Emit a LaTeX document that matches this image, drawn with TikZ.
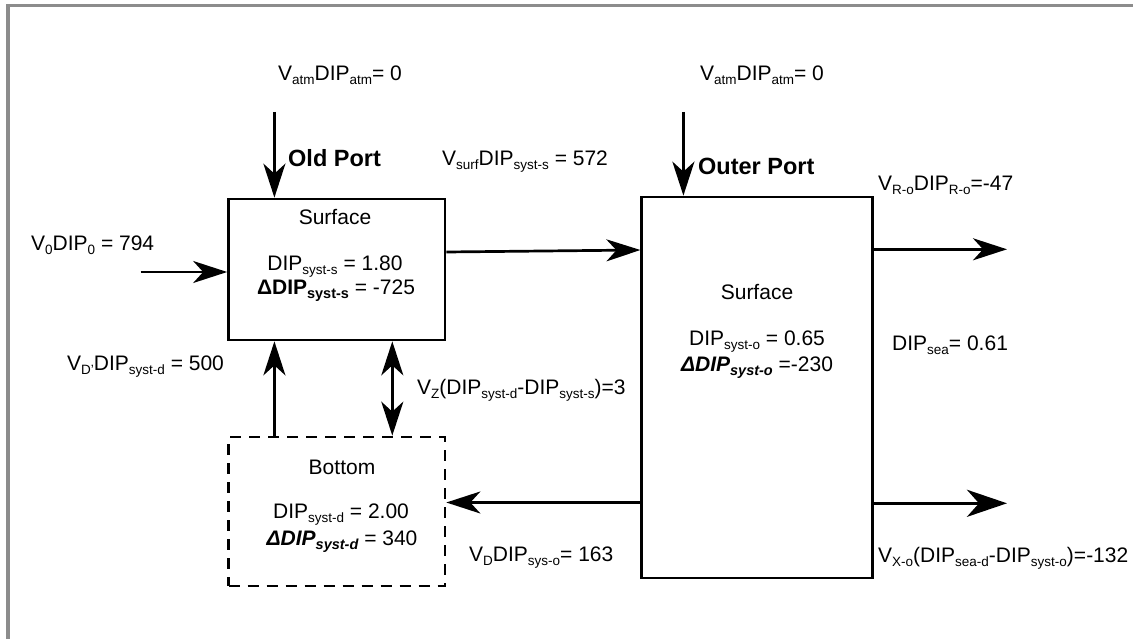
\documentclass[tikz,border=0pt]{standalone}
\usepackage{fontspec}
\setmainfont{Liberation Sans}
\usetikzlibrary{arrows.meta}
\newcommand{\dn}[1]{\raisebox{-4pt}{\fontsize{13.5}{13.5}\selectfont #1}}
\newcommand{\dnb}[1]{\raisebox{-4pt}{\fontsize{14.5}{14.5}\selectfont #1}}
\begin{document}
\begin{tikzpicture}[x=1pt,y=-1pt,
  txt/.style={inner sep=0pt,font=\fontsize{21}{24}\selectfont},
  bold/.style={inner sep=0pt,font=\fontsize{23.5}{26}\selectfont\bfseries},
  boxs/.style={draw,line width=2.7pt,inner sep=0pt},
  tip/.tip={Stealth[length=34pt,width=22pt,inset=10pt]},
  bigtip/.tip={Stealth[length=40pt,width=27pt,inset=12pt]},
  flow/.style={line width=2.7pt,-tip},
  dflow/.style={line width=2.7pt,tip-tip},
  frame/.style={draw=gray!90,line width=3.5pt}]
\useasboundingbox (0,0) rectangle (1133,639);
\draw[frame] (8,639) -- (8,5.5) -- (1133,5.5);
% boxes
\node[boxs,minimum width=216.5pt,minimum height=141pt] (os) at (336.75,269.5) {};
\node[boxs,dashed,dash pattern=on 11pt off 8pt,minimum width=216.5pt,minimum height=149pt] (bt) at (336.75,511.5) {};
\node[boxs,minimum width=231pt,minimum height=381pt] (ob) at (757.25,387.5) {};
% texts in boxes
\node[txt] (t1) at (335,217) {Surface};
\node[txt] (t2) at (335,267) {DIP\dn{syst-s} = 1.80};
\node[txt] (t3) at (336,291) {\textbf{ΔDIP\dnb{syst-s}} = -725};
\node[txt] (t4) at (342,467) {Bottom};
\node[txt] (t5) at (341,515) {DIP\dn{syst-d} = 2.00};
\node[txt] (t6) at (342,542) {\textbf{\textit{ΔDIP\dnb{syst-d}}} = 340};
\node[txt] (t7) at (757,292) {Surface};
\node[txt] (t8) at (757,342) {DIP\dn{syst-o} = 0.65};
\node[txt] (t9) at (757,368) {\textbf{\textit{ΔDIP\dnb{syst-o}}} =-230};
% labels
\node[txt] (la1) at (340,75) {V\dn{atm}DIP\dn{atm}= 0};
\node[txt] (la2) at (762,75) {V\dn{atm}DIP\dn{atm}= 0};
\node[bold,anchor=west] (lp1) at (288,158) {Old Port};
\node[bold,anchor=west] (lp2) at (698,166) {Outer Port};
\node[txt,anchor=west] (ls) at (442,162) {V\dn{surf}DIP\dn{syst-s} = 572};
\node[txt,anchor=west] (lr) at (878,185) {V\dn{R-o}DIP\dn{R-o}=-47};
\node[txt,anchor=west] (l0) at (31,245) {V\dn{0}DIP\dn{0} = 794};
\node[txt,anchor=west] (ld) at (67,367) {V\dn{D'}DIP\dn{syst-d} = 500};
\node[txt,anchor=west] (lz) at (417,390) {V\dn{Z}(DIP\dn{syst-d}-DIP\dn{syst-s})=3};
\node[txt,anchor=west] (lsea) at (892,345) {DIP\dn{sea}= 0.61};
\node[txt,anchor=west] (lvd) at (469,558) {V\dn{D}DIP\dn{sys-o}= 163};
\node[txt,anchor=west] (lx) at (878,558) {V\dn{X-o}(DIP\dn{sea-d}-DIP\dn{syst-o})=-132};
% free ends
\coordinate (a1) at (274.4,112);
\coordinate (a2) at (683.4,112);
\coordinate (a0) at (140.5,272);
\coordinate (r1) at (1007,249.3);
\coordinate (r2) at (1007,503.3);
% connectors
\draw[flow] (a1) -- (a1 |- os.north);
\draw[flow] (a2) -- (a2 |- ob.north);
\draw[flow] (a0) -- (a0 -| os.west);
\draw[flow] (os.east |- 0,252) -- (ob.west |- 0,250);
\draw[flow] (ob.east |- 0,249.3) -- (r1);
\draw[line width=3.6pt,-bigtip] (ob.east |- 0,503.3) -- (r2);
\draw[flow] (ob.west |- 0,502.5) -- (bt.east |- 0,502.5);
\draw[flow] (bt.north -| 274.4,0) -- (os.south -| 274.4,0);
\draw[dflow] (bt.north -| 392.3,0) -- (os.south -| 392.3,0);
\end{tikzpicture}
\end{document}
